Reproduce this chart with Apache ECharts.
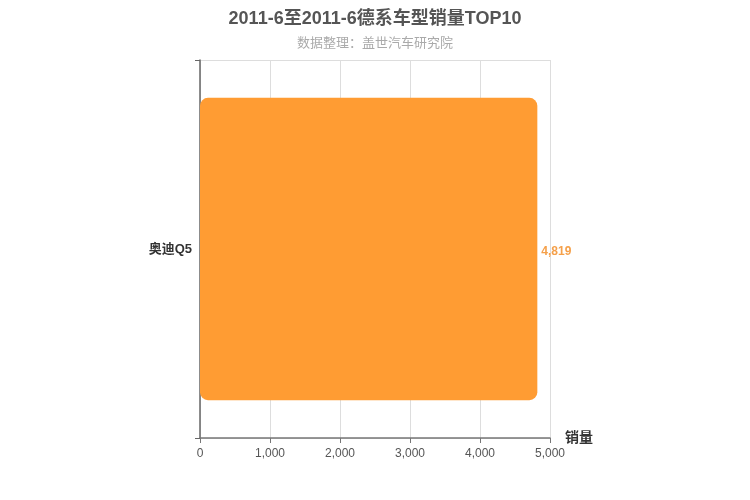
<!DOCTYPE html>
<html>
<head>
<meta charset="utf-8">
<script src="https://cdn.jsdelivr.net/npm/echarts@6/dist/echarts.min.js"></script>
<style>
  html, body { margin: 0; padding: 0; background: #fff; }
  #chart { width: 750px; height: 500px; }
</style>
</head>
<body>
<div id="chart"></div>
<script>
const categories = ['奥迪Q5'];
const sales = [4819];
const xTicks = { min: 0, max: 5000, interval: 1000 };

const chart = echarts.init(document.getElementById('chart'));
chart.setOption({
    animation: false,
    textStyle: { fontFamily: 'Arial, "Liberation Sans", "Noto Sans CJK SC", sans-serif' },
    title: {
        text: '2011-6至2011-6德系车型销量TOP10',
        subtext: '数据整理：盖世汽车研究院',
        left: 'center',
        top: 5,
        itemGap: 9,
        textStyle: { fontSize: 18, fontWeight: 'bold', color: '#555' },
        subtextStyle: { fontSize: 13, color: '#aaa' }
    },
    grid: { left: 200, right: 200, top: 60, bottom: 62 },
    xAxis: {
        type: 'value',
        min: xTicks.min,
        max: xTicks.max,
        interval: xTicks.interval,
        name: '销量',
        nameGap: 15,
        nameTextStyle: { fontSize: 14, fontWeight: 'bold', color: '#333' },
        axisLine: { show: true, lineStyle: { color: '#777', width: 1.5 } },
        axisTick: { show: true, lineStyle: { color: '#777' } },
        axisLabel: { color: '#555', fontSize: 12, margin: 10 },
        splitLine: { show: true, lineStyle: { color: '#ddd' } }
    },
    yAxis: {
        type: 'category',
        data: categories,
        axisLine: { show: true, lineStyle: { color: '#666', width: 1.5 } },
        axisTick: { show: true, lineStyle: { color: '#666' } },
        axisLabel: { color: '#333', fontSize: 13, fontWeight: 'bold', padding: [4, 0, 0, 0] },
        splitLine: { show: true, lineStyle: { color: '#ddd' } }
    },
    series: [{
        type: 'bar',
        data: sales,
        barWidth: '80%',
        itemStyle: { color: '#ff9c33', borderRadius: 8 },
        label: {
            show: true,
            position: 'right',
            distance: 4,
            offset: [0, 3],
            color: '#f5a04a',
            fontSize: 12,
            fontWeight: 'bold',
            formatter: p => p.value.toLocaleString('en-US')
        }
    }]
});
</script>
</body>
</html>
